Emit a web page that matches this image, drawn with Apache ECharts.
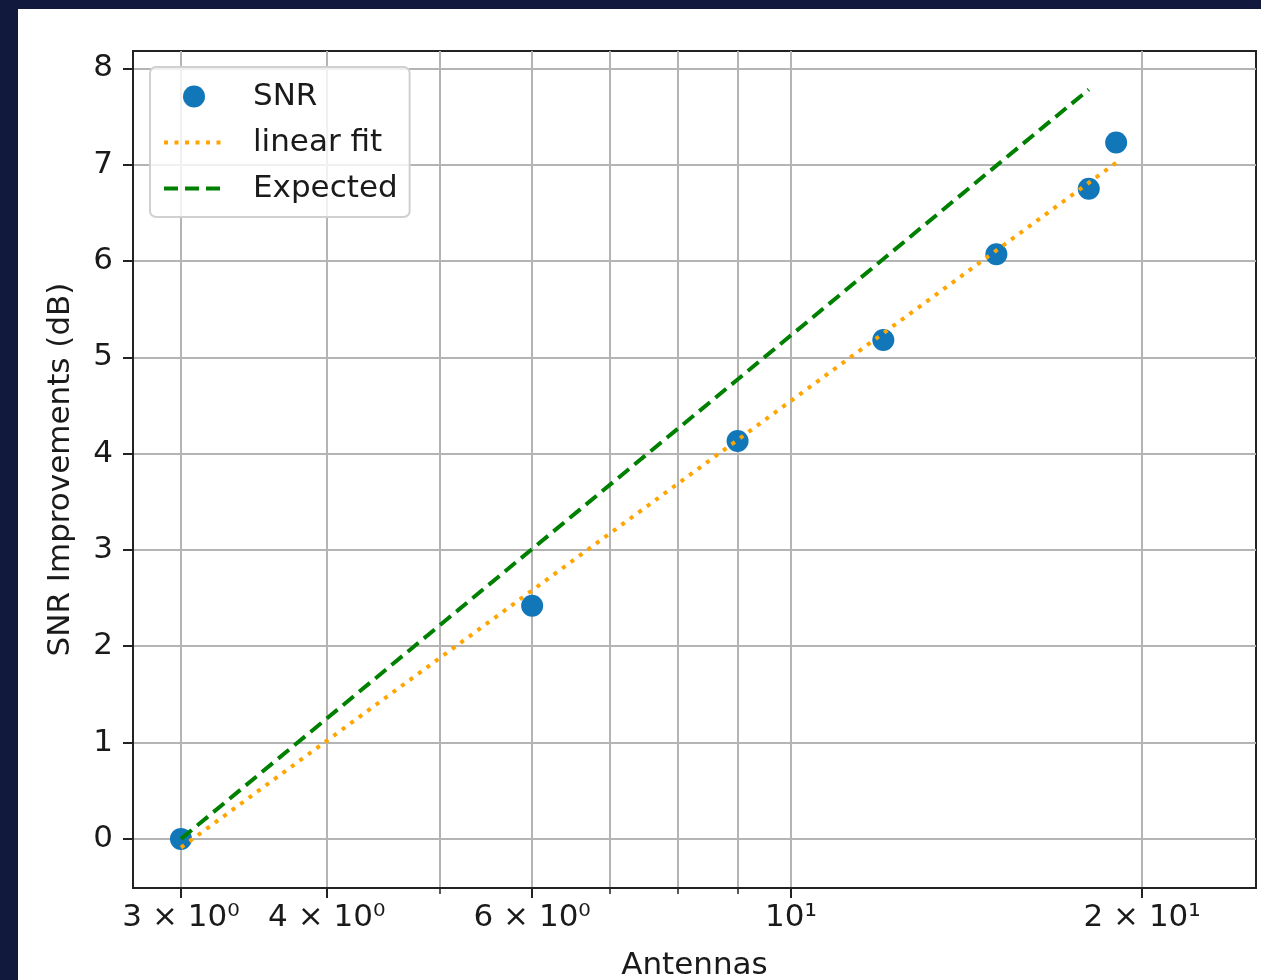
<!DOCTYPE html>
<html>
<head>
<meta charset="utf-8">
<script src="https://cdn.jsdelivr.net/npm/echarts@6/dist/echarts.min.js"></script>
<style>
html,body{margin:0;padding:0;background:#111a3c;}
#chart{width:1261px;height:980px;}
</style>
</head>
<body>
<div id="chart"></div>
<script>
// ---- data ----
const antennas = [3, 6, 9, 12, 15, 18, 19];
const snrImprovement = [0.0, 2.42, 4.13, 5.18, 6.07, 6.75, 7.23];

const fitX = [3, 19];
const fitY = [-0.09, 7.02];

const expectedX = [3, 6, 9, 12, 15, 18];
const expectedY = [0.0, 3.01, 4.77, 6.02, 6.99, 7.78];

const xMajorTicks = [3, 4, 6, 10, 20];
const xMinorTicks = [5, 7, 8, 9];
const xTickLabels = {3: '3 × 10⁰', 4: '4 × 10⁰', 6: '6 × 10⁰', 10: '10¹', 20: '2 × 10¹'};
const yTicks = [0, 1, 2, 3, 4, 5, 6, 7, 8];

const FONT = 'DejaVu Sans';
const FS = 31;
const TXT = '#1a1a1a';
const GRIDC = '#b4b4b4';

const chart = echarts.init(document.getElementById('chart'), null, {renderer: 'canvas'});

const zip = (xs, ys) => xs.map((x, i) => [x, ys[i]]);

const option = {
  backgroundColor: '#111a3c',
  animation: false,
  graphic: [{
    type: 'rect', z: -10, silent: true,
    shape: {x: 18, y: 9, width: 1243, height: 971},
    style: {fill: '#ffffff'}
  }],
  grid: {
    left: 133, top: 51, right: 5, bottom: 92,
    containLabel: false, outerBoundsMode: 'none',
    show: true, borderColor: '#222', borderWidth: 2, backgroundColor: 'transparent'
  },
  legend: {
    orient: 'vertical',
    left: 150, top: 67,
    padding: [13, 12, 12, 12],
    itemGap: 13,
    itemWidth: 60, itemHeight: 22,
    backgroundColor: 'rgba(255,255,255,0.8)',
    borderColor: '#d0d0d0', borderWidth: 2, borderRadius: 6,
    textStyle: {fontFamily: FONT, fontSize: FS, color: TXT, lineHeight: 33, padding: [0, 0, 0, 24]},
    data: [
      {name: 'SNR'},
      {name: 'linear fit', itemStyle: {opacity: 0}, lineStyle: {width: 4, color: '#ffa500', type: [4, 6.5]}},
      {name: 'Expected', itemStyle: {opacity: 0}, lineStyle: {width: 4, color: '#008000', type: [14, 7]}}
    ]
  },
  xAxis: [{
    type: 'log', logBase: 10,
    min: 2.729, max: 25.04,
    position: 'bottom',
    name: 'Antennas', nameLocation: 'middle', nameGap: 62,
    nameTextStyle: {fontFamily: FONT, fontSize: FS, color: TXT, verticalAlign: 'top'},
    axisLine: {show: true, onZero: false, lineStyle: {color: '#222', width: 2}},
    axisTick: {show: true, inside: false, length: 10, customValues: xMajorTicks, lineStyle: {color: '#222', width: 2}},
    axisLabel: {
      customValues: xMajorTicks, margin: 14,
      fontFamily: FONT, fontSize: FS, color: TXT,
      formatter: v => xTickLabels[Math.round(v)] || ''
    },
    splitLine: {show: true, lineStyle: {color: GRIDC, width: 2}},
    minorTick: {show: false}, minorSplitLine: {show: false}
  }, {
    type: 'log', logBase: 10,
    min: 2.729, max: 25.04,
    position: 'bottom', offset: 0,
    axisLine: {show: false, onZero: false},
    axisTick: {show: true, inside: false, length: 6, customValues: xMinorTicks, lineStyle: {color: '#222', width: 1.5}},
    axisLabel: {show: false, customValues: xMinorTicks},
    splitLine: {show: true, lineStyle: {color: GRIDC, width: 2}}
  }],
  yAxis: {
    type: 'value',
    min: -0.51, max: 8.18,
    name: 'SNR Improvements (dB)', nameLocation: 'middle', nameGap: 57,
    nameTextStyle: {fontFamily: FONT, fontSize: FS, color: TXT},
    axisLine: {show: true, onZero: false, lineStyle: {color: '#222', width: 2}},
    axisTick: {show: true, inside: false, length: 10, customValues: yTicks, lineStyle: {color: '#222', width: 2}},
    axisLabel: {customValues: yTicks, margin: 20, fontFamily: FONT, fontSize: FS, color: TXT},
    splitLine: {show: true, lineStyle: {color: GRIDC, width: 2}}
  },
  series: [{
    name: 'SNR', type: 'scatter', xAxisIndex: 0,
    data: zip(antennas, snrImprovement),
    symbol: 'circle', symbolSize: 22, z: 2,
    itemStyle: {color: '#1277b8', opacity: 1}
  }, {
    name: 'linear fit', type: 'line', xAxisIndex: 0,
    data: zip(fitX, fitY),
    symbol: 'none', z: 3,
    itemStyle: {color: '#ffa500'},
    lineStyle: {color: '#ffa500', width: 4, type: [4, 6.5]}
  }, {
    name: 'Expected', type: 'line', xAxisIndex: 0,
    data: zip(expectedX, expectedY),
    symbol: 'none', z: 4,
    itemStyle: {color: '#008000'},
    lineStyle: {color: '#008000', width: 4, type: [14, 7]}
  }]
};
chart.setOption(option);
</script>
</body>
</html>
